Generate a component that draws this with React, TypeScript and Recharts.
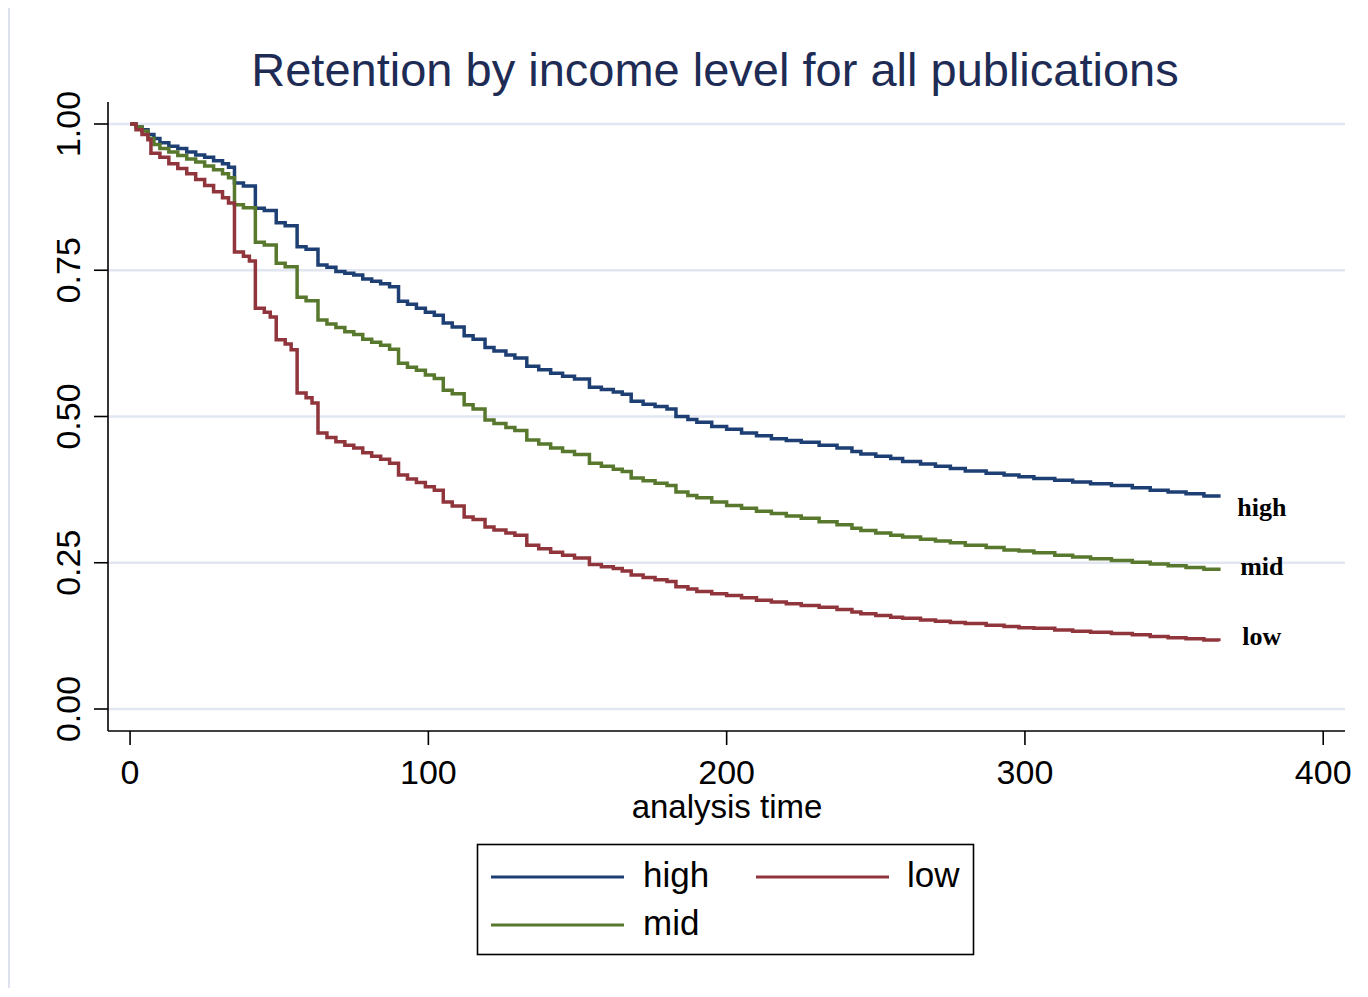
import React from 'react';
import { LineChart, Line, XAxis, YAxis, ReferenceLine } from 'recharts';

// ---- data (Kaplan–Meier style retention estimates) ----
const highTime = [0, 2, 4, 6, 8, 10, 13, 16, 19, 22, 25, 28, 31, 33, 35, 38, 42, 45, 49, 52, 56, 59, 63, 66, 69, 72, 75, 78, 81, 84, 87, 90, 93, 96, 99, 102, 105, 108, 112, 115, 119, 122, 126, 129, 133, 137, 141, 145, 149, 154, 158, 162, 165, 168, 172, 176, 180, 183, 187, 190, 195, 200, 205, 210, 215, 220, 225, 231, 237, 242, 245, 250, 255, 259, 265, 270, 275, 280, 287, 293, 298, 303, 310, 316, 322, 329, 336, 342, 348, 354, 360, 365];
const highSurv = [1.0, 0.995, 0.99, 0.982, 0.975, 0.968, 0.962, 0.958, 0.952, 0.947, 0.943, 0.937, 0.932, 0.926, 0.899, 0.894, 0.856, 0.852, 0.831, 0.826, 0.79, 0.786, 0.759, 0.755, 0.748, 0.745, 0.742, 0.735, 0.731, 0.727, 0.722, 0.697, 0.692, 0.685, 0.678, 0.673, 0.66, 0.653, 0.638, 0.632, 0.618, 0.612, 0.605, 0.6, 0.586, 0.58, 0.574, 0.569, 0.564, 0.55, 0.546, 0.542, 0.538, 0.526, 0.521, 0.517, 0.513, 0.5, 0.495, 0.49, 0.483, 0.478, 0.472, 0.467, 0.462, 0.459, 0.456, 0.451, 0.446, 0.44, 0.436, 0.432, 0.428, 0.423, 0.419, 0.415, 0.411, 0.407, 0.403, 0.4, 0.397, 0.394, 0.391, 0.388, 0.385, 0.382, 0.378, 0.374, 0.371, 0.368, 0.364, 0.361];

const midTime = [0, 2, 4, 6, 8, 10, 13, 16, 19, 22, 25, 28, 31, 33, 35, 38, 42, 45, 49, 52, 56, 59, 63, 66, 69, 72, 75, 78, 81, 84, 87, 90, 93, 96, 99, 102, 105, 108, 112, 115, 119, 122, 126, 129, 133, 137, 141, 145, 149, 154, 158, 162, 165, 168, 172, 176, 180, 183, 187, 190, 195, 200, 205, 210, 215, 220, 225, 231, 237, 242, 245, 250, 255, 259, 265, 270, 275, 280, 287, 293, 298, 303, 310, 316, 322, 329, 336, 342, 348, 354, 360, 365];
const midSurv = [1.0, 0.995, 0.988, 0.975, 0.965, 0.958, 0.952, 0.946, 0.94, 0.935, 0.928, 0.922, 0.915, 0.908, 0.862, 0.857, 0.798, 0.793, 0.762, 0.756, 0.704, 0.698, 0.665, 0.658, 0.652, 0.645, 0.64, 0.632, 0.627, 0.622, 0.615, 0.591, 0.584, 0.579, 0.571, 0.565, 0.545, 0.539, 0.52, 0.513, 0.494, 0.488, 0.481, 0.476, 0.46, 0.453, 0.446, 0.44, 0.435, 0.42, 0.415, 0.41, 0.406, 0.395, 0.39, 0.386, 0.382, 0.371, 0.365, 0.361, 0.354, 0.348, 0.343, 0.338, 0.334, 0.33, 0.326, 0.32, 0.315, 0.309, 0.305, 0.301, 0.297, 0.294, 0.29, 0.287, 0.284, 0.28, 0.276, 0.272, 0.27, 0.267, 0.263, 0.26, 0.257, 0.254, 0.251, 0.248, 0.245, 0.242, 0.239, 0.236];

const lowTime = [0, 2, 4, 6, 7, 10, 13, 16, 19, 22, 25, 28, 31, 33, 35, 38, 40, 42, 45, 47, 49, 52, 54, 56, 59, 61, 63, 66, 69, 72, 75, 78, 81, 84, 87, 90, 93, 96, 99, 102, 105, 108, 112, 115, 119, 122, 126, 129, 133, 137, 141, 145, 149, 154, 158, 162, 165, 168, 172, 176, 180, 183, 187, 190, 195, 200, 205, 210, 215, 220, 225, 231, 237, 242, 245, 250, 255, 259, 265, 270, 275, 280, 287, 293, 298, 303, 310, 316, 322, 329, 336, 342, 348, 354, 360, 365];
const lowSurv = [1.0, 0.99, 0.982, 0.973, 0.95, 0.943, 0.932, 0.924, 0.915, 0.905, 0.895, 0.884, 0.874, 0.865, 0.781, 0.774, 0.766, 0.685, 0.678, 0.67, 0.631, 0.624, 0.614, 0.54, 0.532, 0.523, 0.472, 0.464, 0.457, 0.451, 0.446, 0.438, 0.432, 0.427, 0.42, 0.4, 0.393, 0.387, 0.38, 0.374, 0.354, 0.347, 0.328, 0.324, 0.311, 0.306, 0.301, 0.297, 0.28, 0.274, 0.268, 0.263, 0.258, 0.247, 0.243, 0.24, 0.236, 0.229, 0.225, 0.221, 0.218, 0.209, 0.205, 0.201, 0.197, 0.194, 0.19, 0.186, 0.183, 0.18, 0.177, 0.174, 0.17, 0.166, 0.163, 0.16, 0.157, 0.155, 0.152, 0.15, 0.148, 0.146, 0.143, 0.141, 0.139, 0.138, 0.135, 0.133, 0.131, 0.129, 0.127, 0.124, 0.122, 0.12, 0.118, 0.116];

const seriesNames = ['high', 'mid', 'low'];
const xTicks = [0, 100, 200, 300, 400];
const yTicks = [0, 0.25, 0.5, 0.75, 1];
const titleText = 'Retention by income level for all publications';
const xAxisTitle = 'analysis time';

// ---- style ----
const SANS = '"Liberation Sans", Arial, Helvetica, sans-serif';
const SERIF = '"Liberation Serif", "Times New Roman", serif';
const COLORS: Record<string, string> = { high: '#1E3F73', mid: '#57782D', low: '#91353C' };
const END_DY: Record<string, number> = { high: 18, mid: 4, low: 4 };
const FRAME = '#DDE2EE';

const toRows = (t: number[], s: number[]) => t.map((v, i) => ({ t: v, s: s[i] }));
const highData = toRows(highTime, highSurv);
const midData = toRows(midTime, midSurv);
const lowData = toRows(lowTime, lowSurv);

const W = 1352;
const H = 980;

const YTick = (props: any) => {
  const { x, y, payload } = props;
  const cx = x - 26;
  return (
    <text
      x={cx}
      y={y}
      dy="0.36em"
      textAnchor="middle"
      transform={`rotate(-90, ${cx}, ${y})`}
      fontFamily={SANS}
      fontSize={34}
      fill="#000"
    >
      {Number(payload.value).toFixed(2)}
    </text>
  );
};

const makeEndLabel = (name: string, len: number) => (props: any) => {
  const { x, y, index } = props;
  if (index !== len - 1) return null;
  return (
    <text
      key={`end-${name}`}
      x={x + 43}
      y={y + END_DY[name]}
      textAnchor="middle"
      fontFamily={SERIF}
      fontWeight="bold"
      fontSize={26}
      fill="#000"
    >
      {name}
    </text>
  );
};

export default function App() {
  const datasets: Record<string, { t: number; s: number }[]> = { high: highData, mid: midData, low: lowData };
  return (
    <div style={{ position: 'relative', width: W, height: H }}>
      <div style={{ position: 'absolute', left: 0, top: 0 }}>
        <LineChart
          width={W}
          height={H}
          margin={{ top: 94, right: 15, bottom: 227, left: 40 }}
          accessibilityLayer={false}
        >
          <XAxis
            type="number"
            dataKey="t"
            domain={[-7.4, 407.3]}
            ticks={xTicks}
            allowDataOverflow
            height={30}
            tickSize={14}
            tickMargin={15}
            axisLine={{ stroke: '#000', strokeWidth: 1.6 }}
            tickLine={{ stroke: '#000', strokeWidth: 1.6 }}
            tick={{ fontFamily: SANS, fontSize: 34, fill: '#000' }}
          />
          <YAxis
            type="number"
            dataKey="s"
            domain={[-0.0376, 1.0376]}
            ticks={yTicks}
            allowDataOverflow
            width={60}
            tickSize={14}
            tickMargin={0}
            axisLine={{ stroke: '#000', strokeWidth: 1.6 }}
            tickLine={{ stroke: '#000', strokeWidth: 1.6 }}
            tick={<YTick />}
          />
          {yTicks.map((v) => (
            <ReferenceLine key={`g${v}`} y={v} stroke="#E1E6F0" strokeWidth={2.5} />
          ))}
          {seriesNames.map((name) => (
            <Line
              key={name}
              data={datasets[name]}
              dataKey="s"
              type="stepAfter"
              stroke={COLORS[name]}
              strokeWidth={3.5}
              dot={false}
              activeDot={false}
              isAnimationActive={false}
              label={makeEndLabel(name, datasets[name].length)}
            />
          ))}
        </LineChart>
      </div>
      <svg
        width={W}
        height={H}
        style={{ position: 'absolute', left: 0, top: 0, pointerEvents: 'none', overflow: 'visible' }}
      >
        <line x1={0} x2={W + 20} y1={-1} y2={-1} stroke={FRAME} strokeWidth={2} />
        <line x1={1} x2={1} y1={-1} y2={H + 20} stroke={FRAME} strokeWidth={2} />
        <text x={707} y={78} textAnchor="middle" fontFamily={SANS} fontSize={47} fill="#1E2C55">
          {titleText}
        </text>
        <text x={719} y={810} textAnchor="middle" fontFamily={SANS} fontSize={33} fill="#000">
          {xAxisTitle}
        </text>
        <rect x={469.5} y={836.5} width={496} height={110} fill="none" stroke="#000" strokeWidth={1.6} />
        <line x1={483} x2={616} y1={869} y2={869} stroke={COLORS.high} strokeWidth={3} />
        <text x={635} y={879} fontFamily={SANS} fontSize={35} fill="#000">high</text>
        <line x1={748} x2={881} y1={869} y2={869} stroke={COLORS.low} strokeWidth={3} />
        <text x={899} y={879} fontFamily={SANS} fontSize={35} fill="#000">low</text>
        <line x1={483} x2={616} y1={917} y2={917} stroke={COLORS.mid} strokeWidth={3} />
        <text x={635} y={927} fontFamily={SANS} fontSize={35} fill="#000">mid</text>
      </svg>
    </div>
  );
}
